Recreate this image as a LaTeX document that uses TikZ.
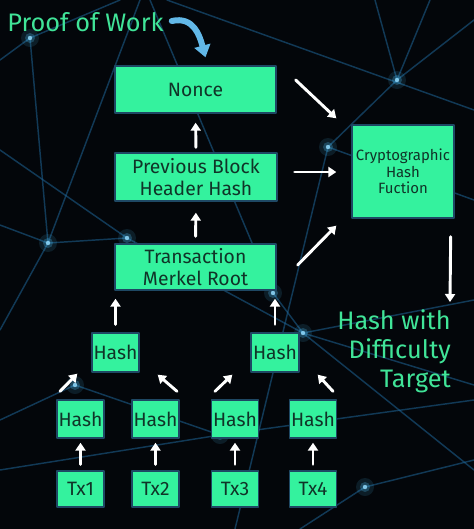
\documentclass[tikz,border=0pt]{standalone}
\usepackage{fontspec}
\setmainfont{Fira Sans}
\usetikzlibrary{arrows.meta,calc}

\definecolor{boxgreen}{RGB}{52,242,158}
\definecolor{boxtext}{RGB}{16,52,40}
\definecolor{boxedge}{RGB}{30,72,100}
\definecolor{labelgreen}{RGB}{64,228,152}
\definecolor{netblue}{RGB}{30,100,150}
\definecolor{glowblue}{RGB}{80,200,255}
\definecolor{curvblue}{RGB}{98,184,232}
\definecolor{bgdark}{RGB}{3,6,10}

\tikzset{
  box/.style={draw=boxedge, line width=1pt, fill=boxgreen, text=boxtext,
    inner sep=0pt, align=center, font=\fontsize{14.5}{16.5}\selectfont},
  arr/.style={draw=white, line width=2.2pt, -{Triangle[width=7.5pt,length=6pt]}},
  net/.style={netblue, line width=1.1pt, opacity=0.55},
  biglabel/.style={text=labelgreen, inner sep=0pt, font=\fontsize{19}{21.75}\selectfont}
}

\newcommand{\glowdot}[1]{%
  \fill[glowblue, opacity=0.12] #1 circle (9);
  \fill[glowblue, opacity=0.25] #1 circle (5);
  \fill[glowblue!60!white, opacity=0.8] #1 circle (2.2);
}

\begin{document}
\begin{tikzpicture}[x=0.75pt, y=-0.75pt, line cap=round, line join=round]

  % --- FUNDAL ---
  \fill[bgdark] (0,0) rectangle (474,529);
  \useasboundingbox (0,0) rectangle (474,529);

  % --- RETEA ALBASTRA DIN FUNDAL ---
  \begin{scope}
    \clip (0,0) rectangle (474,529);
    \draw[net] (167,0) -- (474,110);
    \draw[net] (397,80) -- (474,20);
    \draw[net] (397,80) -- (375,0);
    \draw[net] (397,80) -- (430,0);
    \draw[net] (397,80) -- (328,147) -- (235,529);
    \draw[net] (48,243) -- (0,225);
    \draw[net] (48,243) -- (127,238) -- (303,333);
    \draw[net] (48,243) -- (0,330);
    \draw[net] (48,243) -- (140,0);
    \draw[net] (303,333) -- (474,385);
    \draw[net] (303,333) -- (474,300);
    \draw[net] (303,333) -- (474,470);
    \draw[net] (303,333) -- (273,293) -- (150,0);
    \draw[net] (0,470) -- (220,435) -- (474,400);
    \draw[net] (75,385) -- (0,420);
    \draw[net] (75,385) -- (220,435);
    \draw[net] (365,487) -- (474,460);
    \draw[net] (365,487) -- (300,529);
    \draw[net] (0,60) -- (30,38) -- (120,0);
    \draw[net] (30,38) -- (48,243);
    \draw[net] (328,147) -- (474,200);
    \draw[net] (0,150) -- (127,238);
  \end{scope}
  \glowdot{(397,80)}
  \glowdot{(328,147)}
  \glowdot{(48,243)}
  \glowdot{(127,238)}
  \glowdot{(303,333)}
  \glowdot{(273,293)}
  \glowdot{(365,487)}
  \glowdot{(30,38)}
  \glowdot{(220,435)}
  \glowdot{(75,385)}

  % --- BLOCURI PRINCIPALE ---
  \node[box, minimum width=120.75pt, minimum height=35.25pt] (nonce)  at (195.5,89.5) {Nonce};
  \node[box, minimum width=121.5pt,  minimum height=36pt]    (prev)   at (196,177)    {Previous Block\\Header Hash};
  \node[box, minimum width=120.75pt, minimum height=34.5pt]  (merkle) at (195.5,267)  {Transaction\\Merkel Root};
  \node[box, minimum width=76.5pt,   minimum height=69.75pt, font=\fontsize{11.2}{12.2}\selectfont]
    (crypto) at (403,171.5) {Cryptographic\\Hash\\Fuction};

  % --- ARBORE MERKLE ---
  \node[box, minimum width=35.25pt, minimum height=29.25pt] (hl) at (115.5,352.5) {Hash};
  \node[box, minimum width=36pt,    minimum height=29.25pt] (hr) at (275,352.5)   {Hash};
  \foreach \i/\x in {1/80.5, 2/155.5, 3/235, 4/313} {
    \node[box, minimum width=35.25pt, minimum height=28.5pt] (h\i)  at (\x,419) {Hash};
    \node[box, minimum width=35.25pt, minimum height=27pt]   (tx\i) at (\x,489) {Tx\i};
    \draw[arr, shorten <=4.5pt, shorten >=3pt] (tx\i) -- (h\i);
  }

  % --- ETICHETE ---
  \node[biglabel, anchor=west] (pow) at (7,22) {Proof of Work};
  \node[biglabel, anchor=north east, align=right] (target) at (451,309) {Hash with\\Difficulty\\Target};

  % --- SAGETI ---
  \draw[arr] ($(h1.north)+(-20.5,-8)$) -- ($(hl.south west)+(-14,1)$);
  \draw[arr] ($(h2.north)+(21.5,-8)$)  -- ($(hl.south east)+(18,2)$);
  \draw[arr] ($(h3.north)+(-20,-8)$)   -- ($(hr.south west)+(-18,2)$);
  \draw[arr] ($(h4.north)+(20,-8)$)    -- ($(hr.south east)+(18,2)$);
  \draw[arr, shorten <=6pt, shorten >=6pt] (hl.north) -- (hl.north |- merkle.south);
  \draw[arr, shorten <=6pt, shorten >=6pt] (hr.north) -- (hr.north |- merkle.south);
  \draw[arr, shorten <=5.25pt, shorten >=8.25pt] (merkle.north) -- (prev.south);
  \draw[arr, shorten <=3.75pt, shorten >=6.75pt] (prev.north) -- (nonce.south);
  \draw[arr] ($(nonce.east)+(19,-9.5)$) -- ($(crypto.north west)+(-15,-6)$);
  \draw[arr] ($(prev.east)+(17,-5)$)    -- ($(crypto.west)+(-15,0.5)$);
  \draw[arr] ($(merkle.east)+(21,-2)$)  -- ($(crypto.south west)+(-15,7)$);
  \draw[arr] ($(crypto.south east)+(-4,18)$) -- ($(target.north east)+(-1,-7)$);

  % --- SAGEATA CURBATA "PROOF OF WORK" ---
  \draw[curvblue, line width=4.5pt, -{Triangle[width=12pt,length=9pt]}]
    ($(pow.east)+(8,-1)$) .. controls ($(pow.east)+(30,-6)$) and ($(pow.east)+(36,14)$) .. ($(nonce.north)+(10,-8)$);

\end{tikzpicture}
\end{document}
